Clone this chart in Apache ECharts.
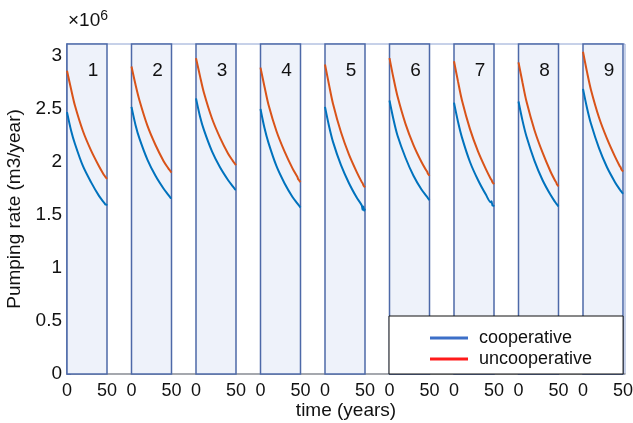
<!DOCTYPE html>
<html>
<head>
<meta charset="utf-8">
<script src="https://cdn.jsdelivr.net/npm/echarts@6/dist/echarts.min.js"></script>
<style>
  html, body { margin: 0; padding: 0; background: #fff; }
  #main { width: 633px; height: 423px; }
</style>
</head>
<body>
<div id="main"></div>
<script>
// time points (years) inside each 50-year run
const timeYears = [0, 5, 10, 20, 30, 40, 46, 47, 48, 49, 50]
const panelNames = ['1', '2', '3', '4', '5', '6', '7', '8', '9']
const yTicks = [0, 0.5, 1, 1.5, 2, 2.5, 3]

// pumping rate, in units of 10^6 m3/year
const cooperative = [
  [2.47, 2.30, 2.17, 1.96, 1.81, 1.68, 1.62, 1.61, 1.60, 1.60, 1.59],
  [2.52, 2.35, 2.22, 2.02, 1.87, 1.75, 1.69, 1.68, 1.67, 1.66, 1.66],
  [2.60, 2.43, 2.30, 2.10, 1.95, 1.83, 1.77, 1.76, 1.75, 1.74, 1.74],
  [2.50, 2.32, 2.18, 1.96, 1.80, 1.67, 1.61, 1.60, 1.59, 1.58, 1.57],
  [2.52, 2.34, 2.19, 1.97, 1.80, 1.66, 1.59, 1.55, 1.58, 1.54, 1.56],
  [2.58, 2.40, 2.25, 2.04, 1.87, 1.74, 1.68, 1.67, 1.66, 1.65, 1.64],
  [2.56, 2.38, 2.23, 2.00, 1.83, 1.69, 1.62, 1.63, 1.59, 1.59, 1.58],
  [2.57, 2.39, 2.24, 2.01, 1.83, 1.69, 1.62, 1.61, 1.60, 1.59, 1.58],
  [2.69, 2.51, 2.36, 2.13, 1.95, 1.81, 1.74, 1.73, 1.72, 1.71, 1.70]
]
const uncooperative = [
  [2.86, 2.69, 2.53, 2.29, 2.11, 1.96, 1.88, 1.87, 1.86, 1.85, 1.84],
  [2.90, 2.73, 2.58, 2.34, 2.16, 2.01, 1.94, 1.93, 1.92, 1.91, 1.90],
  [2.98, 2.81, 2.65, 2.41, 2.23, 2.08, 2.01, 2.00, 1.99, 1.98, 1.97],
  [2.89, 2.71, 2.54, 2.29, 2.10, 1.94, 1.86, 1.84, 1.83, 1.82, 1.81],
  [2.92, 2.73, 2.55, 2.28, 2.07, 1.90, 1.81, 1.80, 1.78, 1.77, 1.76],
  [2.98, 2.79, 2.62, 2.36, 2.16, 2.00, 1.92, 1.91, 1.89, 1.88, 1.87],
  [2.95, 2.76, 2.58, 2.31, 2.10, 1.93, 1.84, 1.83, 1.81, 1.80, 1.79],
  [2.94, 2.75, 2.57, 2.30, 2.09, 1.91, 1.82, 1.81, 1.79, 1.78, 1.77],
  [3.04, 2.85, 2.68, 2.42, 2.22, 2.05, 1.96, 1.95, 1.93, 1.92, 1.91]
]

const FONT = 'Liberation Sans, Arial, sans-serif'
const Y_MAX = 3.113
const GRID_TOP = 44
const GRID_BOTTOM = 49
const PLOT_LEFT = 67
const PANEL_W = 40
const PANEL_STEP = 64.5

const chart = echarts.init(document.getElementById('main'))

const grids = [{
  // overall axes (y labels, top frame, bottom axis line)
  left: PLOT_LEFT, right: 8, top: GRID_TOP, bottom: GRID_BOTTOM,
  outerBoundsMode: 'none', containLabel: false,
  show: true, borderColor: '#8ea3d2', borderWidth: 1, backgroundColor: '#fff'
}]
const xAxes = [{
  gridIndex: 0, type: 'value', min: 0, max: 1,
  name: 'time (years)', nameLocation: 'middle', nameGap: 27,
  nameTextStyle: { fontSize: 19, color: '#111', fontFamily: FONT },
  axisLine: { show: true, lineStyle: { color: '#9a9a9a', width: 1.5 } },
  axisTick: { show: false }, axisLabel: { show: false }, splitLine: { show: false }
}]
const yAxes = [{
  gridIndex: 0, type: 'value', min: 0, max: Y_MAX, interval: 0.5,
  name: 'Pumping rate (m3/year)', nameLocation: 'middle', nameGap: 36,
  nameTextStyle: { fontSize: 19, color: '#111', fontFamily: FONT },
  axisLine: { show: true, lineStyle: { color: '#5470b0', width: 1.5 } },
  axisTick: { show: true, inside: true, length: 4, lineStyle: { color: '#5470b0' } },
  axisLabel: {
    fontSize: 19, color: '#111', fontFamily: FONT, margin: 5,
    formatter: (v) => (yTicks.includes(v) ? String(v) : '')
  },
  splitLine: { show: false }
}]
const series = []
const titles = []

panelNames.forEach((name, i) => {
  const g = i + 1
  const left = PLOT_LEFT + i * PANEL_STEP
  grids.push({
    left: left, width: PANEL_W, top: GRID_TOP, bottom: GRID_BOTTOM,
    outerBoundsMode: 'none', containLabel: false,
    show: true, backgroundColor: '#eef2fa', borderColor: '#4d69a8', borderWidth: 1.5, z: 3
  })
  xAxes.push({
    gridIndex: g, type: 'value', min: 0, max: 50, interval: 50,
    axisLine: { show: false }, axisTick: { show: false }, splitLine: { show: false },
    axisLabel: { fontSize: 18, color: '#111', fontFamily: FONT, margin: 8, showMinLabel: true, showMaxLabel: true }
  })
  yAxes.push({
    gridIndex: g, type: 'value', min: 0, max: Y_MAX, show: false, splitLine: { show: false }
  })
  series.push({
    name: 'cooperative', type: 'line', xAxisIndex: g, yAxisIndex: g,
    data: timeYears.map((t, k) => [t, cooperative[i][k]]),
    showSymbol: false, smooth: 0.3, z: 4,
    lineStyle: { color: '#0072bd', width: 2 }, itemStyle: { color: '#0072bd' }
  })
  series.push({
    name: 'uncooperative', type: 'line', xAxisIndex: g, yAxisIndex: g,
    data: timeYears.map((t, k) => [t, uncooperative[i][k]]),
    showSymbol: false, smooth: 0.3, z: 4,
    lineStyle: { color: '#d95319', width: 2 }, itemStyle: { color: '#d95319' }
  })
  titles.push({
    text: name, left: left + PANEL_W / 2 + 1, top: 56, textAlign: 'center',
    textStyle: { fontSize: 19, fontWeight: 'normal', color: '#111', fontFamily: FONT }
  })
})

chart.setOption({
  animation: false,
  backgroundColor: '#fff',
  title: titles,
  grid: grids,
  xAxis: xAxes,
  yAxis: yAxes,
  legend: {
    orient: 'vertical',
    left: 389, top: 316,
    padding: [12, 31, 5, 41],
    itemWidth: 38, itemHeight: 3, itemGap: 1,
    backgroundColor: '#fff', borderColor: '#111', borderWidth: 1,
    textStyle: { fontSize: 18, color: '#111', fontFamily: FONT, lineHeight: 20, padding: [0, 0, 0, 6] },
    data: [
      { name: 'cooperative', icon: 'rect', itemStyle: { color: '#3c6fc8' } },
      { name: 'uncooperative', icon: 'rect', itemStyle: { color: '#ff1a1a' } }
    ],
    z: 10
  },
  graphic: [{
    type: 'text', left: 68, top: 9, z: 10,
    style: {
      text: '×10{s|6}', fill: '#111', font: '19px ' + FONT,
      rich: { s: { fontSize: 14, verticalAlign: 'top', padding: [0, 0, 9, 0], fontFamily: FONT } }
    }
  }],
  series: series
})
</script>
</body>
</html>
